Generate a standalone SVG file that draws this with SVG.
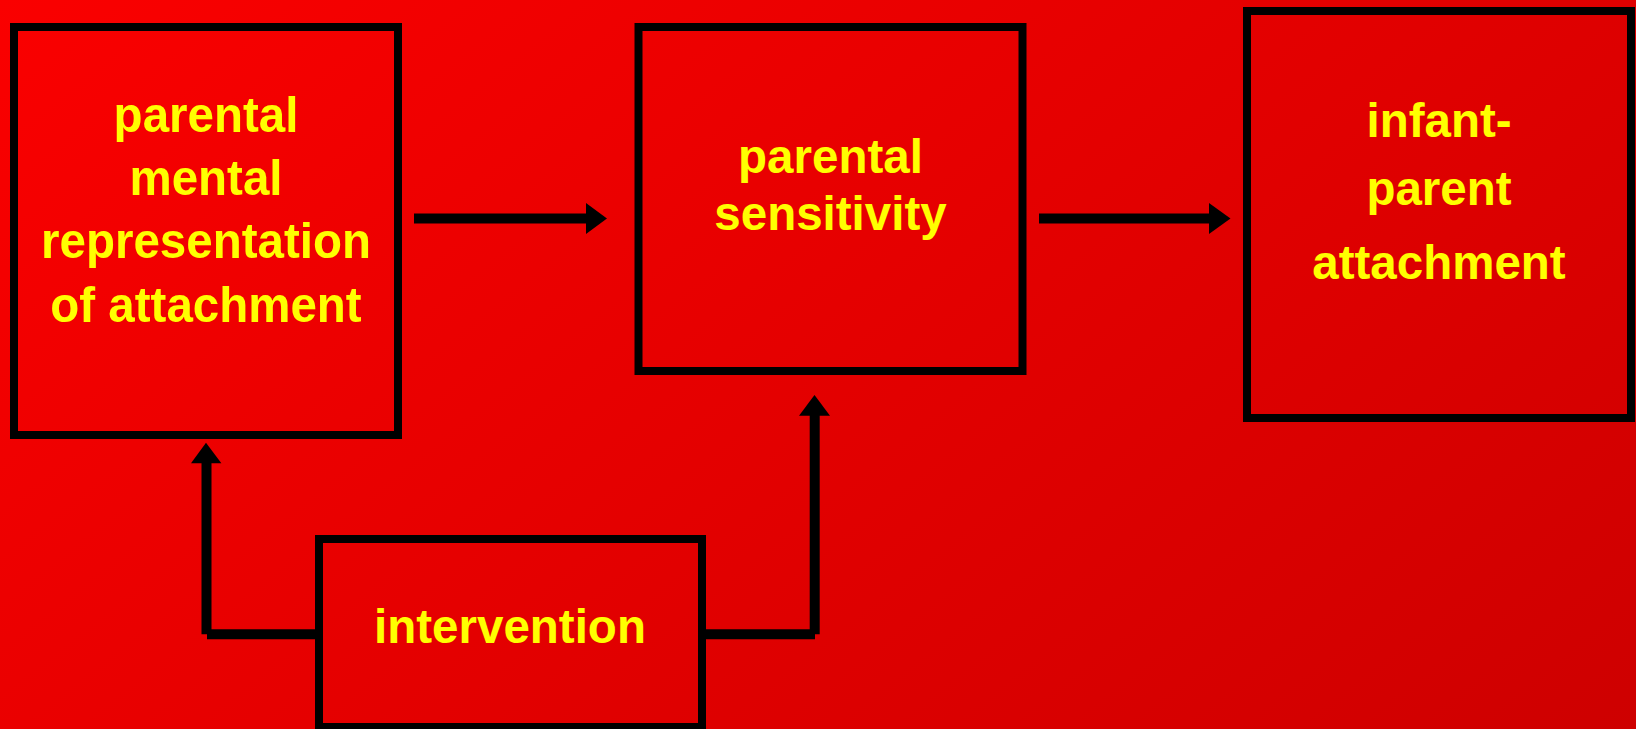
<svg xmlns="http://www.w3.org/2000/svg" width="1636" height="729" viewBox="0 0 1636 729">
  <defs>
    <linearGradient id="bg" x1="0" y1="0" x2="986" y2="1245" gradientUnits="userSpaceOnUse">
      <stop offset="0" stop-color="#FA0000"/>
      <stop offset="1" stop-color="#CE0000"/>
    </linearGradient>
    <style>
      .box { fill: none; stroke: #000; stroke-width: 8; }
      .lbl { font-family: "Liberation Sans", Arial, sans-serif; font-weight: bold; font-size: 47.5px; fill: #FFFF00; text-anchor: middle; }
      .ln { stroke: #000; stroke-width: 10; fill: none; stroke-linecap: butt; }
      .hd { fill: #000; }
    </style>
  </defs>
  <rect x="0" y="0" width="1636" height="729" fill="url(#bg)"/>

  <g id="node-representation">
    <rect class="box" x="14" y="27" width="384" height="408"/>
    <text class="lbl" transform="translate(206,132) scale(1,1.06)">parental</text>
    <text class="lbl" transform="translate(206,195) scale(1,1.06)">mental</text>
    <text class="lbl" transform="translate(206,258) scale(1,1.06)">representation</text>
    <text class="lbl" transform="translate(206,322) scale(1,1.06)">of attachment</text>
  </g>

  <g id="node-sensitivity">
    <rect class="box" x="638.5" y="27" width="384" height="344"/>
    <text class="lbl" x="830.5" y="173">parental</text>
    <text class="lbl" x="830.5" y="230">sensitivity</text>
  </g>

  <g id="node-attachment">
    <rect class="box" x="1247" y="11" width="384" height="407"/>
    <text class="lbl" x="1439" y="137">infant-</text>
    <text class="lbl" x="1439" y="205">parent</text>
    <text class="lbl" x="1439" y="279">attachment</text>
  </g>

  <g id="node-intervention">
    <rect class="box" x="319" y="539" width="383" height="188"/>
    <text class="lbl" x="510" y="643">intervention</text>
  </g>

  <g id="connectors">
    <line class="ln" x1="414" y1="218.5" x2="587" y2="218.5"/>
    <polygon class="hd" points="586,203 607,218.5 586,234"/>

    <line class="ln" x1="1039" y1="218.5" x2="1210" y2="218.5"/>
    <polygon class="hd" points="1209,203 1230.5,218.5 1209,234"/>

    <line class="ln" x1="315" y1="634.3" x2="207" y2="634.3"/>
    <line class="ln" x1="206.5" y1="634.3" x2="206.5" y2="462"/>
    <polygon class="hd" points="191,463.3 206,442.7 221.4,463.3"/>

    <line class="ln" x1="705" y1="634.3" x2="815" y2="634.3"/>
    <line class="ln" x1="814.7" y1="634.3" x2="814.7" y2="414"/>
    <polygon class="hd" points="799,415.7 814.5,395 830,415.7"/>
  </g>
</svg>
